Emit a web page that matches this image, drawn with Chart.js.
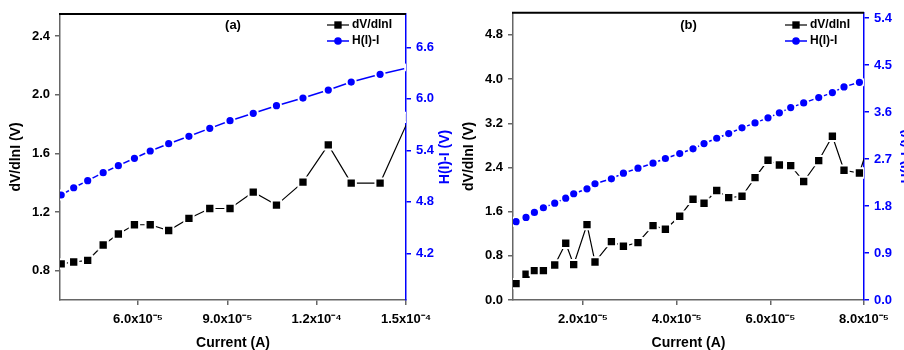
<!DOCTYPE html>
<html>
<head>
<meta charset="utf-8">
<script src="https://cdn.jsdelivr.net/npm/chart.js@4.4.1/dist/chart.umd.min.js"></script>
<style>
  body { margin: 0; background: #fff; }
  #wrap { position: relative; width: 904px; height: 350px; overflow: hidden; }
  #wrap canvas { position: absolute; top: 0; }
</style>
</head>
<body>
<div id="wrap">
  <canvas id="chart-a" width="452" height="350" style="left:0"></canvas>
  <canvas id="chart-b" width="452" height="350" style="left:452px"></canvas>
</div>
<script>
// panel (a): current in A, last sample sits just past the axis end
const currentA = [3.42e-5, 3.84e-5, 4.31e-5, 4.83e-5, 5.34e-5, 5.88e-5, 6.41e-5, 7.03e-5, 7.71e-5,
                  8.41e-5, 9.09e-5, 9.87e-5, 1.065e-4, 1.154e-4, 1.239e-4, 1.316e-4, 1.413e-4, 1.512e-4];
const dVdlnIA = [0.846, 0.859, 0.870, 0.975, 1.050, 1.113, 1.113, 1.074, 1.156,
                 1.224, 1.224, 1.336, 1.247, 1.404, 1.658, 1.397, 1.397, 1.845];
const hIA = [4.879, 4.964, 5.046, 5.139, 5.221, 5.307, 5.392, 5.477, 5.563,
             5.656, 5.745, 5.831, 5.920, 6.009, 6.102, 6.195, 6.285, 6.366];

// panel (b)
const currentB = [0.570e-5, 0.783e-5, 0.962e-5, 1.154e-5, 1.396e-5, 1.631e-5, 1.801e-5, 2.085e-5, 2.256e-5, 2.606e-5,
                  2.863e-5, 3.174e-5, 3.495e-5, 3.759e-5, 4.065e-5, 4.349e-5, 4.584e-5, 4.855e-5, 5.111e-5, 5.395e-5,
                  5.673e-5, 5.950e-5, 6.193e-5, 6.435e-5, 6.712e-5, 7.033e-5, 7.325e-5, 7.573e-5, 7.902e-5, 8.2e-5];
const dVdlnIB = [0.297, 0.466, 0.533, 0.533, 0.634, 1.027, 0.641, 1.366, 0.688, 1.058,
                 0.973, 1.040, 1.348, 1.281, 1.516, 1.824, 1.752, 1.982, 1.855, 1.878,
                 2.217, 2.530, 2.445, 2.434, 2.145, 2.525, 2.965, 2.349, 2.300, 3.07];
const hIB = [1.499, 1.581, 1.677, 1.767, 1.855, 1.950, 2.035, 2.130, 2.226, 2.321,
             2.429, 2.524, 2.620, 2.710, 2.805, 2.895, 2.996, 3.098, 3.188, 3.297,
             3.392, 3.488, 3.584, 3.685, 3.775, 3.876, 3.972, 4.081, 4.169];

// tick values and labels
const xTicksA = [6e-5, 9e-5, 1.2e-4, 1.5e-4];
const xLabelsA = ['6.0x10⁻⁵', '9.0x10⁻⁵', '1.2x10⁻⁴', '1.5x10⁻⁴'];
const leftTicksA = [0.8, 1.2, 1.6, 2.0, 2.4];
const rightTicksA = [4.2, 4.8, 5.4, 6.0, 6.6];

const xTicksB = [2e-5, 4e-5, 6e-5, 8e-5];
const xLabelsB = ['2.0x10⁻⁵', '4.0x10⁻⁵', '6.0x10⁻⁵', '8.0x10⁻⁵'];
const leftTicksB = [0.0, 0.8, 1.6, 2.4, 3.2, 4.0, 4.8];
const rightTicksB = [0.0, 0.9, 1.8, 2.7, 3.6, 4.5, 5.4];

const seriesNames = ['dV/dlnI', 'H(I)-I'];

const FONT = '"Liberation Sans", Arial, sans-serif';
const AXIS_GREY = '#666';
const BLUE = '#0000ff';

Chart.defaults.font.family = FONT;
Chart.defaults.color = '#000';

function toPoints(xs, ys) {
  return ys.map((y, i) => ({ x: xs[i], y: y }));
}

function fixedTicks(values) {
  return scale => { scale.ticks = values.map(v => ({ value: v })); };
}

// top frame line, panel letter, inset legend and the right-hand axis title
// (Chart.js turns right titles top-to-bottom, here it reads bottom-to-top)
const panelDecor = {
  id: 'panelDecor',
  afterDraw(chart, args, opts) {
    const { ctx, chartArea: a } = chart;
    ctx.save();

    ctx.strokeStyle = '#000';
    ctx.lineWidth = 2;
    ctx.beginPath();
    ctx.moveTo(a.left - 1, a.top);
    ctx.lineTo(a.right, a.top);
    ctx.stroke();

    ctx.fillStyle = '#000';
    ctx.font = 'bold 13px ' + FONT;
    ctx.textAlign = 'center';
    ctx.textBaseline = 'middle';
    ctx.fillText(opts.letter, (a.left + a.right) / 2, 25);

    chart.data.datasets.forEach((ds, i) => {
      const y = 25 + i * 16;
      const x0 = a.right - 79;
      ctx.strokeStyle = ds.borderColor;
      ctx.lineWidth = ds.borderWidth;
      ctx.beginPath();
      ctx.moveTo(x0, y);
      ctx.lineTo(x0 + 22, y);
      ctx.stroke();
      ctx.fillStyle = ds.pointBackgroundColor;
      Chart.helpers.drawPoint(ctx, {
        pointStyle: ds.pointStyle,
        radius: ds.pointStyle === 'rect' ? 5.2 : 3.8,
        borderWidth: 0,
        rotation: 0
      }, x0 + 11, y);
      ctx.fillStyle = '#000';
      ctx.font = 'bold 12px ' + FONT;
      ctx.textAlign = 'left';
      ctx.fillText(ds.label, x0 + 25, y);
    });

    ctx.fillStyle = BLUE;
    ctx.font = 'bold 14px ' + FONT;
    ctx.textAlign = 'center';
    ctx.translate(opts.rightTitleX, (a.top + a.bottom) / 2);
    ctx.rotate(-Math.PI / 2);
    ctx.fillText('H(I)-I (V)', 0, 0);
    ctx.restore();
  }
};

function makePanel(id, p) {
  const tickFont = { size: 13, weight: 'bold' };
  return new Chart(document.getElementById(id), {
    type: 'line',
    data: {
      datasets: [
        {
          label: seriesNames[0],
          data: toPoints(p.current, p.dVdlnI),
          yAxisID: 'y',
          borderColor: '#000',
          borderWidth: 1.2,
          pointStyle: 'rect',
          pointRadius: 6.6,
          pointBackgroundColor: '#000',
          pointBorderColor: '#fff',
          pointBorderWidth: 2,
          tension: 0,
          clip: 0
        },
        {
          label: seriesNames[1],
          data: toPoints(p.current, p.hI),
          yAxisID: 'y1',
          borderColor: BLUE,
          borderWidth: 1.5,
          pointStyle: 'circle',
          pointRadius: 4.6,
          pointBackgroundColor: BLUE,
          pointBorderColor: '#fff',
          pointBorderWidth: 2,
          tension: 0,
          clip: 0
        }
      ]
    },
    options: {
      responsive: false,
      animation: false,
      events: [],
      layout: { padding: { top: p.top, left: 0, right: 0, bottom: 0 } },
      plugins: {
        legend: { display: false },
        tooltip: { enabled: false },
        panelDecor: { letter: p.letter, rightTitleX: p.rightTitleX }
      },
      scales: {
        x: {
          type: 'linear',
          min: p.xMin,
          max: p.xMax,
          afterBuildTicks: fixedTicks(p.xTicks),
          afterFit: s => { s.height = 50; },
          ticks: {
            font: tickFont,
            padding: 7,
            maxRotation: 0,
            callback: v => p.xLabels[p.xTicks.indexOf(v)]
          },
          grid: { drawOnChartArea: false, tickLength: 5, color: AXIS_GREY, lineWidth: 1.5 },
          border: { color: AXIS_GREY, width: 1.5 },
          title: {
            display: true,
            text: 'Current (A)',
            font: { size: 14, weight: 'bold', lineHeight: 1 },
            padding: { top: 0, bottom: 0 }
          }
        },
        y: {
          position: 'left',
          min: p.leftMin,
          max: p.leftMax,
          afterBuildTicks: fixedTicks(p.leftTicks),
          afterFit: s => { s.width = p.leftWidth; },
          ticks: { font: tickFont, padding: 5, callback: v => v.toFixed(1) },
          grid: { drawOnChartArea: false, tickLength: 5, color: AXIS_GREY, lineWidth: 1.5 },
          border: { color: AXIS_GREY, width: 1.5 },
          title: {
            display: true,
            text: 'dV/dlnI (V)',
            font: { size: 14, weight: 'bold' },
            padding: { top: p.leftTitlePad, bottom: 0 }
          }
        },
        y1: {
          position: 'right',
          min: p.rightMin,
          max: p.rightMax,
          afterBuildTicks: fixedTicks(p.rightTicks),
          afterFit: s => { s.width = p.rightWidth; },
          ticks: { font: tickFont, padding: 5, color: BLUE, callback: v => v.toFixed(1) },
          grid: { drawOnChartArea: false, tickLength: 5, color: BLUE, lineWidth: 1.5 },
          border: { color: BLUE, width: 1.5 }
        }
      }
    },
    plugins: [panelDecor]
  });
}

makePanel('chart-a', {
  letter: '(a)',
  current: currentA, dVdlnI: dVdlnIA, hI: hIA,
  xMin: 3.38e-5, xMax: 1.5e-4, xTicks: xTicksA, xLabels: xLabelsA,
  leftMin: 0.6, leftMax: 2.55, leftTicks: leftTicksA,
  rightMin: 3.656, rightMax: 6.988, rightTicks: rightTicksA,
  top: 14, leftWidth: 60, rightWidth: 46, leftTitlePad: 8, rightTitleX: 445
});

makePanel('chart-b', {
  letter: '(b)',
  current: currentB, dVdlnI: dVdlnIB, hI: hIB,
  xMin: 0.505e-5, xMax: 8e-5, xTicks: xTicksB, xLabels: xLabelsB,
  leftMin: 0, leftMax: 5.2, leftTicks: leftTicksB,
  rightMin: 0, rightMax: 5.5, rightTicks: rightTicksB,
  top: 12, leftWidth: 61, rightWidth: 40, leftTitlePad: 9, rightTitleX: 455
});
</script>
</body>
</html>
